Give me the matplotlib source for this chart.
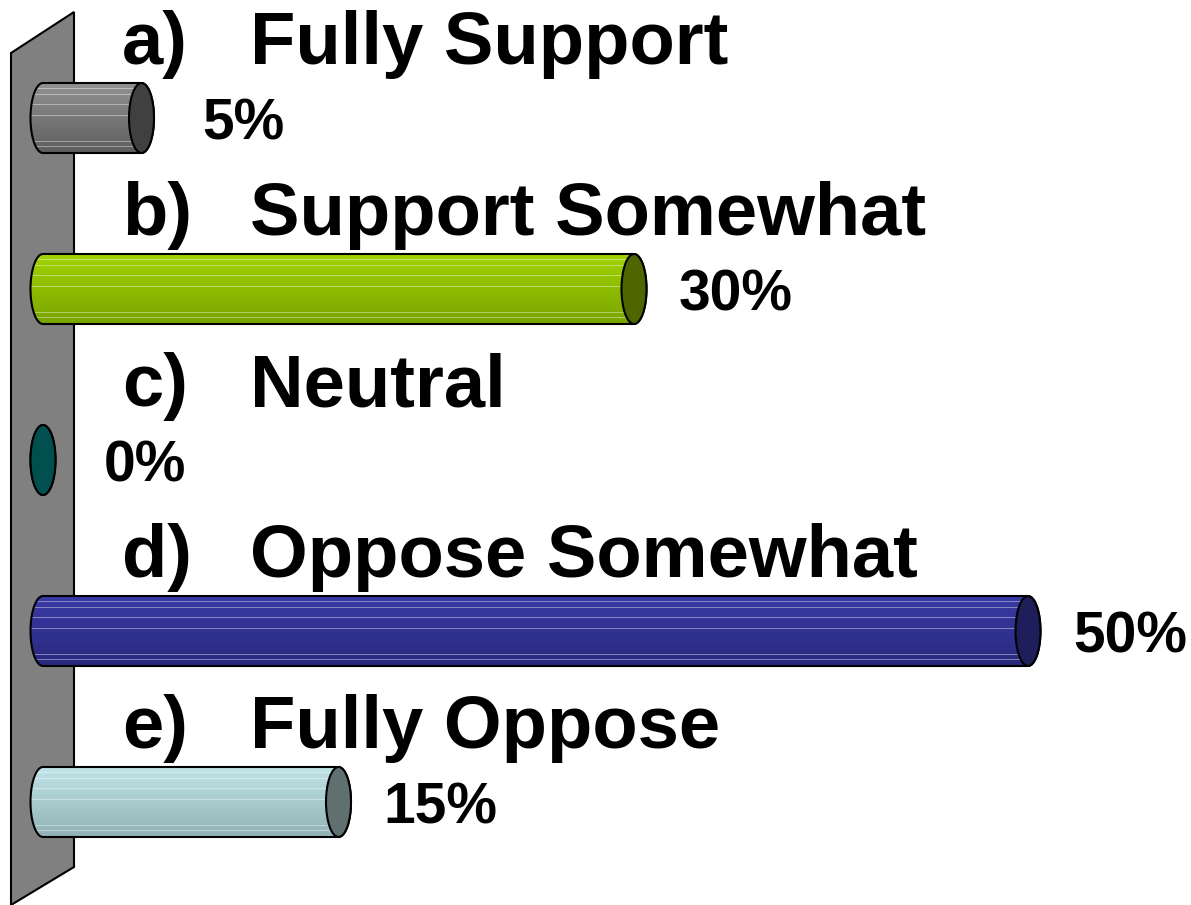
import numpy as np
import matplotlib
matplotlib.use('Agg')
import matplotlib.pyplot as plt
from matplotlib.patches import Ellipse, Polygon, PathPatch
from matplotlib.path import Path

letters = ['a)', 'b)', 'c)', 'd)', 'e)']
answers = ['Fully Support', 'Support Somewhat', 'Neutral', 'Oppose Somewhat', 'Fully Oppose']
values = [5, 30, 0, 50, 15]
top_colors = ['#929292', '#a2d400', '#005a5a', '#3a3aa6', '#bfe4e7']
bottom_colors = ['#5e5e5e', '#7aa300', '#004444', '#29297e', '#92b2b5']
cap_colors = ['#404040', '#4d6600', '#005050', '#1e1e5a', '#607070']

plt.rcParams['font.family'] = ['Liberation Sans', 'DejaVu Sans']

# pixel layout: 0% at x=43px, 19.7px per percent, rows 171px apart starting at y=118px
PX_PER_PCT = 19.7
X0 = 43
ROW0 = 118
ROW_H = 171
W, H = 1191, 905


def px(x, y):
    return ((x - X0) / PX_PER_PCT, (y - ROW0) / ROW_H)


fig = plt.figure(figsize=(W / 100, H / 100), dpi=100)
ax = fig.add_axes([0, 0, 1, 1])
ax.axis('off')

# back wall
wall = Polygon([px(11, 53), px(74, 12), px(74, 867), px(11, 905)], closed=True,
               facecolor='#808080', edgecolor='black', lw=1.5, zorder=1)
ax.add_patch(wall)

w = 12.5 / PX_PER_PCT   # half width of end ellipse
h = 35 / ROW_H          # half height of cylinder
t = np.linspace(-np.pi / 2, np.pi / 2, 60)

for i, v in enumerate(values):
    # silhouette of the cylinder
    right = np.column_stack([v + w * np.cos(t), i + h * np.sin(t)])
    left = np.column_stack([-w * np.cos(t), i - h * np.sin(t)])
    pts = np.vstack([right, left, right[:1]])
    body = PathPatch(Path(pts), facecolor='none', edgecolor='black', lw=1.5, zorder=4)
    ax.add_patch(body)

    # vertical shading with a few light streaks
    n = 70
    c1 = np.array(matplotlib.colors.to_rgb(top_colors[i]))
    c2 = np.array(matplotlib.colors.to_rgb(bottom_colors[i]))
    f = np.linspace(0, 1, n)[:, None]
    grad = c1 * (1 - f) + c2 * f
    for r in [0.08, 0.16, 0.3, 0.47, 0.83, 0.91]:
        k = int(r * n)
        grad[k] = grad[k] * 0.6 + 0.4
    img = ax.imshow(grad[:, None, :], extent=(-w, v + w, i + h, i - h),
                    aspect='auto', interpolation='bilinear', zorder=3)
    clip = PathPatch(Path(pts), transform=ax.transData, facecolor='none', edgecolor='none')
    ax.add_patch(clip)
    img.set_clip_path(clip)

    # end cap
    cap = Ellipse((v, i), 2 * w, 2 * h, facecolor=cap_colors[i], edgecolor='black',
                  lw=1.5, zorder=5)
    ax.add_patch(cap)

    # labels
    ax.text(px(122, 0)[0], i - 54 / ROW_H, letters[i], fontsize=53.5, fontweight='bold',
            ha='left', va='baseline', zorder=6)
    ax.text(px(250, 0)[0], i - 54 / ROW_H, answers[i], fontsize=53.5, fontweight='bold',
            ha='left', va='baseline', zorder=6)
    ax.text(v + 102 / PX_PER_PCT, i + 21 / ROW_H, f'{v}%', fontsize=41, fontweight='bold',
            ha='center', va='baseline', zorder=6)

ax.set_xlim(-X0 / PX_PER_PCT, (W - X0) / PX_PER_PCT)
ax.set_ylim((H - ROW0) / ROW_H, -ROW0 / ROW_H)

fig.savefig('out.png', dpi=100)
